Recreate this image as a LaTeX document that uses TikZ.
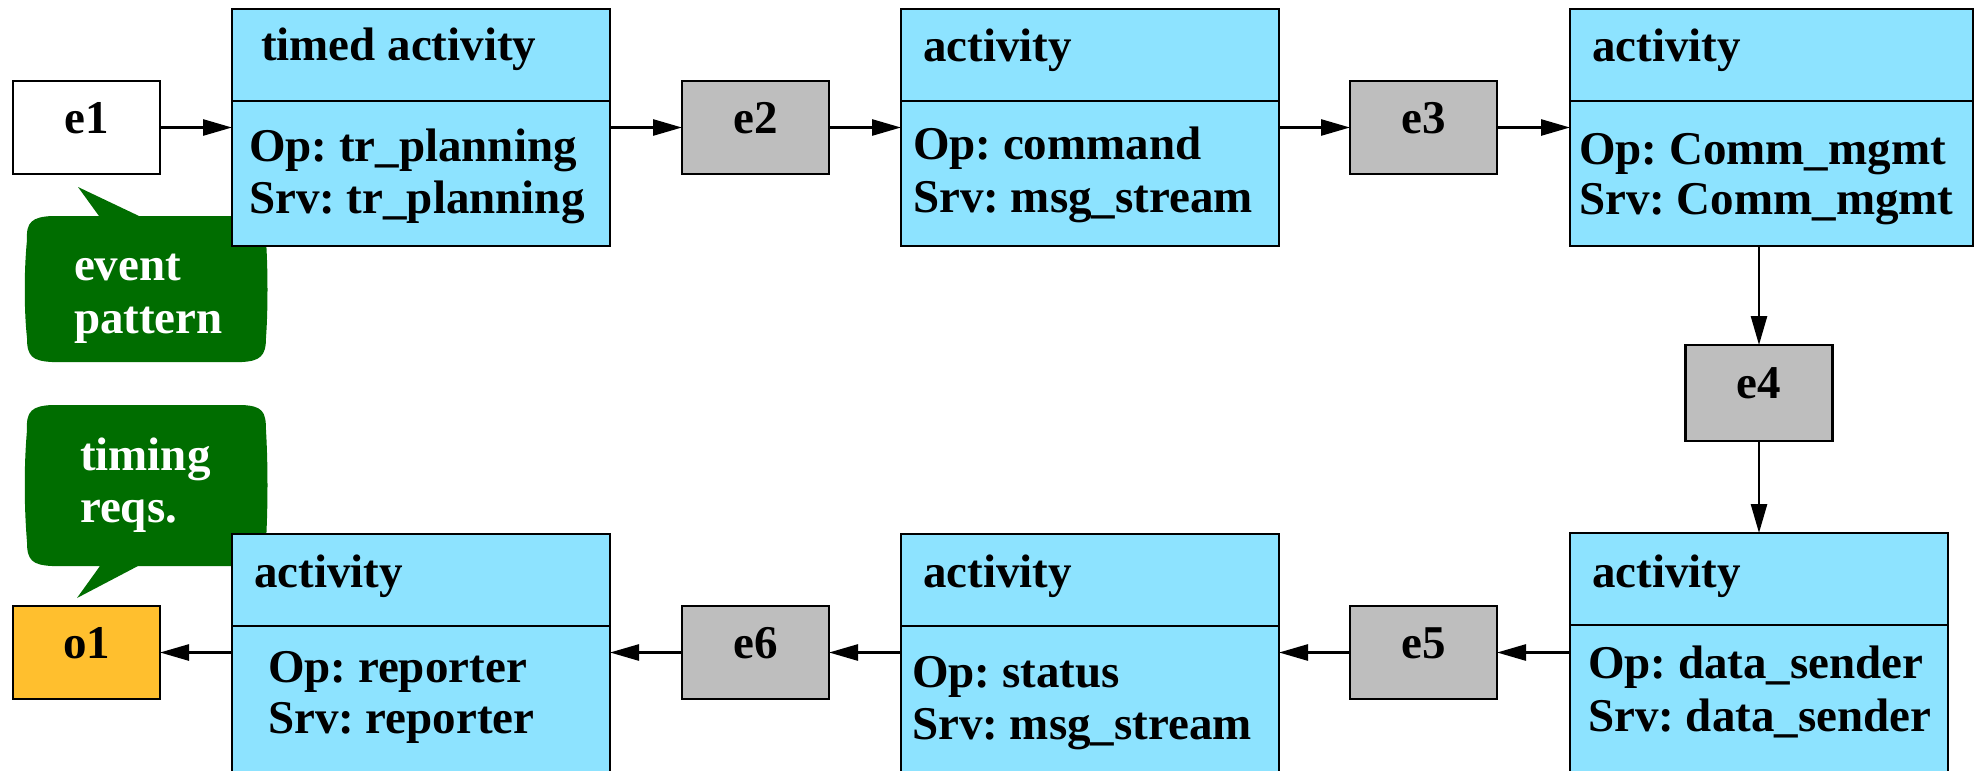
\documentclass[tikz,border=0pt]{standalone}
\usepackage{fontspec}
\setmainfont{Liberation Serif}
\usetikzlibrary{arrows.meta}

\definecolor{actfill}{RGB}{141,227,255}
\definecolor{evfill}{RGB}{190,190,190}
\definecolor{outfill}{RGB}{255,191,46}
\definecolor{notefill}{RGB}{0,109,0}

\tikzset{
  every node/.style={font=\fontsize{47}{51}\selectfont\bfseries\frenchspacing, inner sep=0pt, outer sep=0pt},
  actbox/.style={draw, fill=actfill, line width=2.7pt, anchor=north west, minimum width=378pt},
  topact/.style={actbox, minimum height=237pt},
  lowact/.style={actbox, minimum height=262pt},
  divider/.style={line width=2.7pt},
  evbox/.style={draw, fill=evfill, line width=2.7pt, minimum width=147pt, minimum height=93pt,
                text height=33pt, text depth=22pt},
  outbox/.style={evbox, fill=outfill},
  startbox/.style={evbox, fill=white},
  lbl/.style={anchor=base west},
  notetext/.style={anchor=base west, text=white},
  conn/.style={line width=2.7pt, -{Triangle[length=29pt, width=16pt]}},
}

\begin{document}
\begin{tikzpicture}[x=1pt, y=-1pt]
  \useasboundingbox (0,0) rectangle (1979,771);
  \fill[white] (0,0) rectangle (1979,771);
  \clip (0,0) rectangle (1979,771);

  % speech bubbles (drawn first, the activity boxes overlap them)
  \fill[notefill] (27,240) .. controls (26,222) and (32,217) .. (52,216) -- (99,216) -- (78,187)
    -- (139,216) -- (242,216) .. controls (262,217) and (266,222) .. (266,240)
    .. controls (268,270) and (268,310) .. (266,338) .. controls (266,356) and (260,361) .. (242,362)
    -- (52,362) .. controls (32,361) and (27,356) .. (27,338)
    .. controls (24,310) and (24,270) .. (27,240) -- cycle;
  \fill[notefill] (27,430) .. controls (26,411) and (32,406) .. (52,405) -- (242,405)
    .. controls (262,406) and (266,411) .. (266,430)
    .. controls (268,465) and (268,505) .. (266,542) .. controls (266,560) and (260,565) .. (242,566)
    -- (138,566) -- (77,598) -- (100,566) -- (52,566) .. controls (32,565) and (27,560) .. (27,542)
    .. controls (24,505) and (24,465) .. (27,430) -- cycle;
  \node[notetext] (n1a) at (74,280) {event};
  \node[notetext] (n1b) at (74,333) {pattern};
  \node[notetext] (n2a) at (80,470) {timing};
  \node[notetext] (n2b) at (80,522) {reqs.};

  % top row of activities
  \node[topact] (act1) at (232,9) {};
  \node[topact] (act2) at (901,9) {};
  \node[topact, minimum width=403pt] (act3) at (1570,9) {};
  % bottom row of activities
  \node[lowact] (act4) at (1570,533) {};
  \node[lowact] (act5) at (901,534) {};
  \node[lowact] (act6) at (232,534) {};

  \foreach \a in {act1,act2,act3,act4,act5,act6}
    \draw[divider] ([yshift=-92pt]\a.north west) -- ([yshift=-92pt]\a.north east);

  \node[lbl] (t1) at (261,60) {timed activity};
  \node[lbl] (o1op) at (249,161) {Op: tr\_planning};
  \node[lbl] (o1sv) at (249,213) {Srv: tr\_planning};

  \node[lbl] (t2) at (923,61) {activity};
  \node[lbl] (o2op) at (913,159) {Op: command};
  \node[lbl] (o2sv) at (913,212) {Srv: msg\_stream};

  \node[lbl] (t3) at (1592,61) {activity};
  \node[lbl] (o3op) at (1579,164) {Op: Comm\_mgmt};
  \node[lbl] (o3sv) at (1579,214) {Srv: Comm\_mgmt};

  \node[lbl] (t4) at (1592,587) {activity};
  \node[lbl] (o4op) at (1588,678) {Op: data\_sender};
  \node[lbl] (o4sv) at (1588,731) {Srv: data\_sender};

  \node[lbl] (t5) at (923,587) {activity};
  \node[lbl] (o5op) at (912,687) {Op: status};
  \node[lbl] (o5sv) at (912,739) {Srv: msg\_stream};

  \node[lbl] (t6) at (254,587) {activity};
  \node[lbl] (o6op) at (268,682) {Op: reporter};
  \node[lbl] (o6sv) at (268,733) {Srv: reporter};

  % events
  \node[startbox] (e1) at (86.5,127.5) {e1};
  \node[evbox] (e2) at (755.5,127.5) {e2};
  \node[evbox] (e3) at (1423.5,127.5) {e3};
  \node[evbox, minimum height=96pt] (e4) at (1759,393) {e4};
  \node[evbox] (e5) at (1423.5,652.5) {e5};
  \node[evbox] (e6) at (755.5,652.5) {e6};
  \node[outbox] (o1) at (86.5,652.5) {o1};

  % connectors
  \draw[conn] (e1.east) -- (act1.west |- e1.east);
  \draw[conn] (act1.east |- e2.west) -- (e2.west);
  \draw[conn] (e2.east) -- (act2.west |- e2.east);
  \draw[conn] (act2.east |- e3.west) -- (e3.west);
  \draw[conn] (e3.east) -- (act3.west |- e3.east);
  \draw[conn] (e4.north |- act3.south) -- (e4.north);
  \draw[conn] (e4.south) -- (e4.south |- act4.north);
  \draw[conn] (act4.west |- e5.east) -- (e5.east);
  \draw[conn] (e5.west) -- (act5.east |- e5.west);
  \draw[conn] (act5.west |- e6.east) -- (e6.east);
  \draw[conn] (e6.west) -- (act6.east |- e6.west);
  \draw[conn] (act6.west |- o1.east) -- (o1.east);
\end{tikzpicture}
\end{document}
